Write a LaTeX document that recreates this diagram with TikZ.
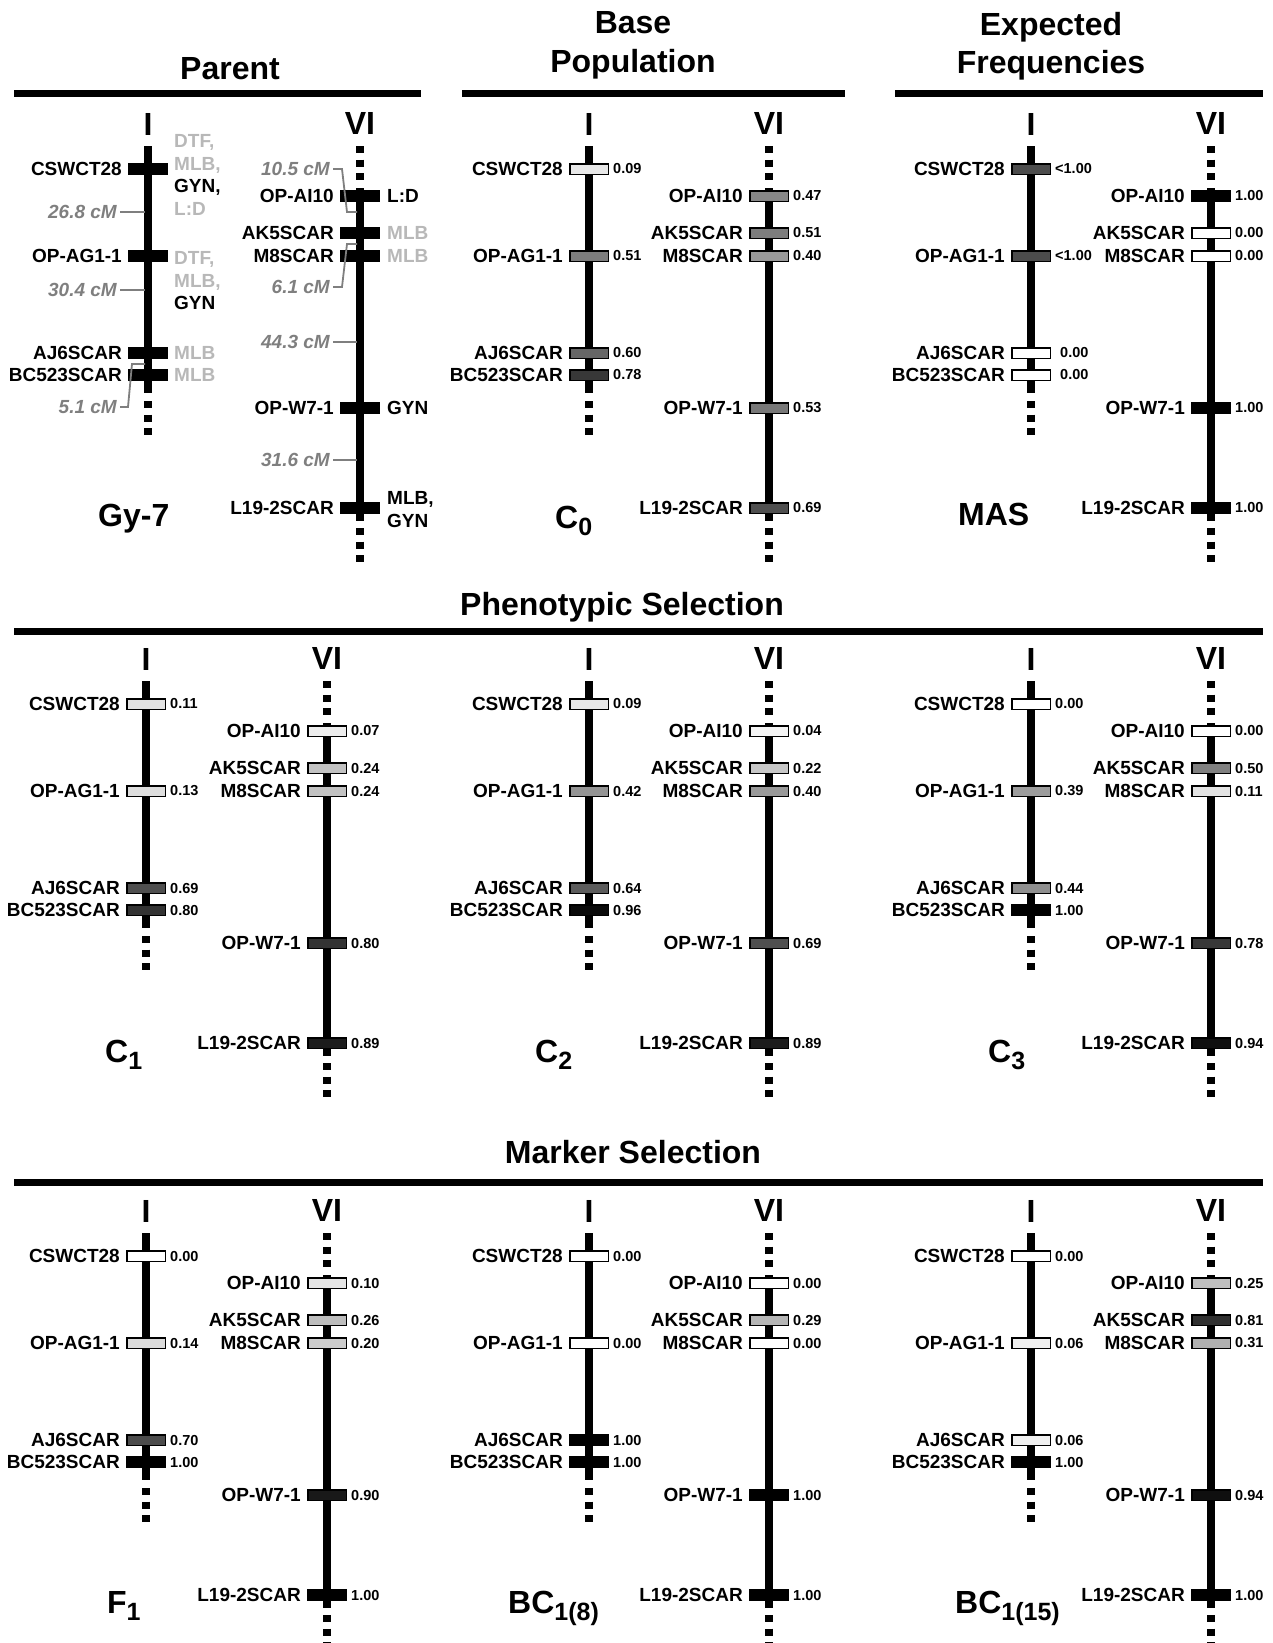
\documentclass[tikz,border=0pt]{standalone}
\usepackage{fontspec}
\setmainfont{Liberation Sans}
\usepackage{tikz}
\usetikzlibrary{positioning}
\definecolor{grisrasgo}{HTML}{B8B8B8}
\definecolor{griscm}{HTML}{7F7F7F}
\tikzset{
  cromosoma/.style={line width=7.5pt,black},
  puntos/.style={dash pattern=on 7pt off 6.5pt},
  barra/.style={draw=black,line width=1.5pt,minimum width=38.5pt,minimum height=10.5pt,inner sep=0pt},
  marcador/.style={font=\fontsize{19}{22}\selectfont\bfseries,inner sep=0pt},
  valor/.style={font=\fontsize{14.5}{16}\selectfont\bfseries,inner sep=0pt},
  rasgo/.style={font=\fontsize{19}{22.5}\selectfont\bfseries,inner sep=0pt,align=left,anchor=west},
  distancia/.style={font=\fontsize{19}{22}\selectfont\bfseries\itshape,griscm,inner xsep=3pt,inner ysep=0pt,anchor=east},
  guia/.style={griscm,line width=1.8pt},
  titulo/.style={font=\fontsize{32}{38.4}\selectfont\bfseries,inner sep=0pt,align=center},
  raya/.style={line width=7pt},
  grupo/.style={font=\fontsize{32}{38}\selectfont\bfseries,inner sep=0pt,anchor=base west},
}
\newcommand{\sub}[1]{\raisebox{-7pt}{\fontsize{25}{25}\selectfont #1}}
% barra de un marcador: [tono] nombre, x, y, etiqueta, valor
\newcommand{\marca}[6][]{%
  \def\tono{#1}%
  \ifx\tono\empty\pgfmathtruncatemacro\tono{round(100*#6)}\fi
  \node[barra,fill=black!\tono] (#2) at (#3,#4) {};%
  \node[marcador,left=6pt of #2] (#2-n) {#5};%
  \node[valor,right=4pt of #2] (#2-v) {#6};%
}
\newcommand{\ejeI}[2]{%
  \node[titulo] (#1-I) at (#2,124) {I};%
  \draw[cromosoma] (#2,146) -- (#2,393);%
  \draw[cromosoma,puntos] (#2,401) -- (#2,437);%
}
\newcommand{\ejeVI}[2]{%
  \node[titulo] (#1-VI) at (#2,123) {VI};%
  \draw[cromosoma,puntos] (#2,146) -- (#2,181);%
  \draw[cromosoma] (#2,188) -- (#2,521);%
  \draw[cromosoma,puntos] (#2,528) -- (#2,563);%
}
\newcommand{\cromI}[6]{%
  \ejeI{#1}{#2}%
  \marca{#1-c28}{#2}{169}{CSWCT28}{#3}%
  \marca{#1-ag}{#2}{256}{OP-AG1-1}{#4}%
  \marca{#1-aj}{#2}{353}{AJ6SCAR}{#5}%
  \marca{#1-bc}{#2}{375}{BC523SCAR}{#6}%
}
\newcommand{\cromVI}[7]{%
  \ejeVI{#1}{#2}%
  \marca{#1-ai}{#2}{196}{OP-AI10}{#3}%
  \marca{#1-ak}{#2}{233}{AK5SCAR}{#4}%
  \marca{#1-m8}{#2}{256}{M8SCAR}{#5}%
  \marca{#1-w7}{#2}{408}{OP-W7-1}{#6}%
  \marca{#1-l19}{#2}{508}{L19-2SCAR}{#7}%
}

\begin{document}
\begin{tikzpicture}[x=1pt,y=-1pt]
  \useasboundingbox (0,0) rectangle (1272,1643);
  % encabezados
  \node[titulo,anchor=base] (tpadre) at (230,80) {Parent};
  \node[titulo,anchor=north] (tbase) at (633,11.7) {Base\\Population};
  \node[titulo,anchor=north] (tesp) at (1051,11.7) {Expected\\Frequencies};
  \draw[raya] (14,94) -- (421,94);
  \draw[raya] (462,94) -- (845,94);
  \draw[raya] (895,94) -- (1263,94);
  \node[titulo,anchor=base] (tfeno) at (622,615) {Phenotypic Selection};
  \draw[raya] (14,631) -- (1263,631);
  \node[titulo,anchor=base] (tmarc) at (633,1163) {Marker Selection};
  \draw[raya] (14,1182) -- (1263,1182);

  % Parent
  \ejeI{p}{148}
  \marca[100]{p-c28}{148}{169}{CSWCT28}{}
  \marca[100]{p-ag}{148}{256}{OP-AG1-1}{}
  \marca[100]{p-aj}{148}{353}{AJ6SCAR}{}
  \marca[100]{p-bc}{148}{375}{BC523SCAR}{}
  \ejeVI{pv}{360}
  \marca[100]{pv-ai}{360}{196}{OP-AI10}{}
  \marca[100]{pv-ak}{360}{233}{AK5SCAR}{}
  \marca[100]{pv-m8}{360}{256}{M8SCAR}{}
  \marca[100]{pv-w7}{360}{408}{OP-W7-1}{}
  \marca[100]{pv-l19}{360}{508}{L19-2SCAR}{}
  \node[rasgo] (r1) at (174,175) {{\color{grisrasgo}DTF,}\\{\color{grisrasgo}MLB,}\\GYN,\\{\color{grisrasgo}L:D}};
  \node[rasgo] (r2) at (174,281) {{\color{grisrasgo}DTF,}\\{\color{grisrasgo}MLB,}\\GYN};
  \node[rasgo,grisrasgo] (r3) at (174,353) {MLB};
  \node[rasgo,grisrasgo] (r4) at (174,375) {MLB};
  \node[rasgo] (r5) at (387,196) {L:D};
  \node[rasgo,grisrasgo] (r6) at (387,233) {MLB};
  \node[rasgo,grisrasgo] (r7) at (387,256) {MLB};
  \node[rasgo] (r8) at (387,408) {GYN};
  \node[rasgo] (r9) at (387,509.5) {MLB,\\GYN};
  \node[distancia] (d268) at (120,212) {26.8 cM};
  \node[distancia] (d304) at (120,290) {30.4 cM};
  \node[distancia] (d51) at (120,407) {5.1 cM};
  \node[distancia] (d105) at (333,169) {10.5 cM};
  \node[distancia] (d61) at (333,287) {6.1 cM};
  \node[distancia] (d443) at (333,342) {44.3 cM};
  \node[distancia] (d316) at (333,460) {31.6 cM};
  \coordinate (e268) at (145,212);
  \coordinate (e304) at (145,290);
  \coordinate (e51) at (145,364);
  \coordinate (e105) at (357,212);
  \coordinate (e61) at (357,244);
  \coordinate (e443) at (357,342);
  \coordinate (e316) at (357,460);
  \draw[guia] (d268.east) -- (e268);
  \draw[guia] (d304.east) -- (e304);
  \draw[guia] (d51.east) -- ++(8,0) -- (132,364) -- (e51);
  \draw[guia] (d105.east) -- ++(9,0) -- (347,212) -- (e105);
  \draw[guia] (d61.east) -- ++(9,0) -- (347,244) -- (e61);
  \draw[guia] (d443.east) -- (e443);
  \draw[guia] (d316.east) -- (e316);
  \node[grupo] (gy7) at (98,526) {Gy-7};

  % Base population
  \cromI{b}{589}{0.09}{0.51}{0.60}{0.78}
  \cromVI{bv}{769}{0.47}{0.51}{0.40}{0.53}{0.69}
  \node[grupo] (c0) at (555,528) {C\sub{0}};

  % MAS
  \ejeI{m}{1031}
  \marca[70]{m-c28}{1031}{169}{CSWCT28}{<1.00}
  \marca[70]{m-ag}{1031}{256}{OP-AG1-1}{<1.00}
  \marca[0]{m-aj}{1031}{353}{AJ6SCAR}{\hspace*{5pt}0.00}
  \marca[0]{m-bc}{1031}{375}{BC523SCAR}{\hspace*{5pt}0.00}
  \cromVI{mv}{1211}{1.00}{0.00}{0.00}{1.00}{1.00}
  \node[grupo] (mas) at (958,525) {MAS};

  % Phenotypic selection
  \begin{scope}[shift={(0,535)}]
    \cromI{c1}{146}{0.11}{0.13}{0.69}{0.80}
    \cromVI{c1v}{327}{0.07}{0.24}{0.24}{0.80}{0.89}
    \node[grupo] (gc1) at (105,527) {C\sub{1}};
    \cromI{c2}{589}{0.09}{0.42}{0.64}{0.96}
    \cromVI{c2v}{769}{0.04}{0.22}{0.40}{0.69}{0.89}
    \node[grupo] (gc2) at (535,527) {C\sub{2}};
    \cromI{c3}{1031}{0.00}{0.39}{0.44}{1.00}
    \cromVI{c3v}{1211}{0.00}{0.50}{0.11}{0.78}{0.94}
    \node[grupo] (gc3) at (988,527) {C\sub{3}};
  \end{scope}

  % Marker selection
  \begin{scope}[shift={(0,1087)}]
    \cromI{f1}{146}{0.00}{0.14}{0.70}{1.00}
    \cromVI{f1v}{327}{0.10}{0.26}{0.20}{0.90}{1.00}
    \node[grupo] (gf1) at (107,526) {F\sub{1}};
    \cromI{bc8}{589}{0.00}{0.00}{1.00}{1.00}
    \cromVI{bc8v}{769}{0.00}{0.29}{0.00}{1.00}{1.00}
    \node[grupo] (gbc8) at (508,526) {BC\sub{1(8)}};
    \cromI{bc15}{1031}{0.00}{0.06}{0.06}{1.00}
    \cromVI{bc15v}{1211}{0.25}{0.81}{0.31}{0.94}{1.00}
    \node[grupo] (gbc15) at (955,526) {BC\sub{1(15)}};
  \end{scope}
\end{tikzpicture}
\end{document}
